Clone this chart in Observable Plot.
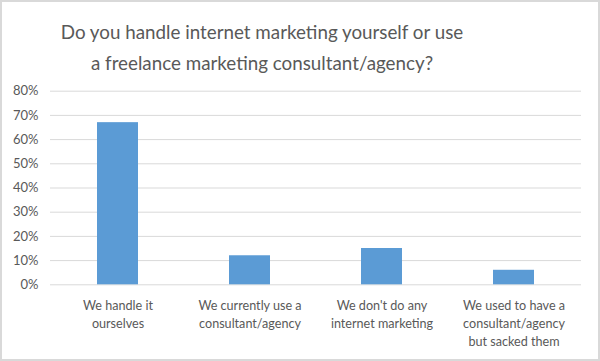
<!DOCTYPE html>
<html>
<head>
<meta charset="utf-8">
<script src="https://cdn.jsdelivr.net/npm/d3@7"></script>
<script src="https://cdn.jsdelivr.net/npm/@observablehq/plot@0.6"></script>
<style>
  body { margin: 0; background: #fff; }
  #chart { position: relative; width: 600px; height: 361px; box-sizing: border-box; border: 2px solid #d9d9d9; background: #fff; overflow: hidden; }
  #title { height: 76px; width: 520px; box-sizing: border-box; padding-top: 14px; text-align: center; font-family: Lato, "Open Sans", sans-serif; font-size: 18.8px; line-height: 31px; color: #595959; }
  #plot svg { display: block; }
</style>
</head>
<body>
<div id="chart">
  <div id="title">Do you handle internet marketing yourself or use<br>a freelance marketing consultant/agency?</div>
  <div id="plot"></div>
</div>
<script>
const categories = [
  "We handle it ourselves",
  "We currently use a consultant/agency",
  "We don't do any internet marketing",
  "We used to have a consultant/agency but sacked them"
];
const tickLabels = [
  "We handle it\nourselves",
  "We currently use a\nconsultant/agency",
  "We don't do any\ninternet marketing",
  "We used to have a\nconsultant/agency\nbut sacked them"
];
const values = [0.67, 0.12, 0.15, 0.06];
const yTicks = [0, 0.1, 0.2, 0.3, 0.4, 0.5, 0.6, 0.7, 0.8];

const data = categories.map((c, i) => ({category: c, value: values[i]}));
const labelOf = new Map(categories.map((c, i) => [c, tickLabels[i]]));

const chart = Plot.plot({
  width: 596,
  height: 281,
  marginLeft: 48,
  marginRight: 17,
  marginTop: 12.7,
  marginBottom: 74.7,
  style: {fontFamily: "Lato, 'Open Sans', sans-serif", fontSize: "12.6px", color: "#595959", background: "#fff"},
  x: {domain: categories, paddingInner: 0.687, paddingOuter: 0.3435, label: null},
  y: {domain: [0, 0.8], label: null},
  marks: [
    Plot.gridY(yTicks, {stroke: "#d9d9d9", strokeOpacity: 1, strokeWidth: 1}),
    Plot.barY(data, {x: "category", y: "value", fill: "#5b9bd5"}),
    Plot.axisY(yTicks, {tickSize: 0, tickPadding: 12, tickFormat: d3.format(".0%"), fill: "#595959", fontSize: 13, label: null}),
    Plot.axisX({tickSize: 0, tickPadding: 13, tickFormat: d => labelOf.get(d), lineHeight: 1.41, fill: "#595959", label: null})
  ]
});
document.getElementById("plot").appendChild(chart);
</script>
</body>
</html>
